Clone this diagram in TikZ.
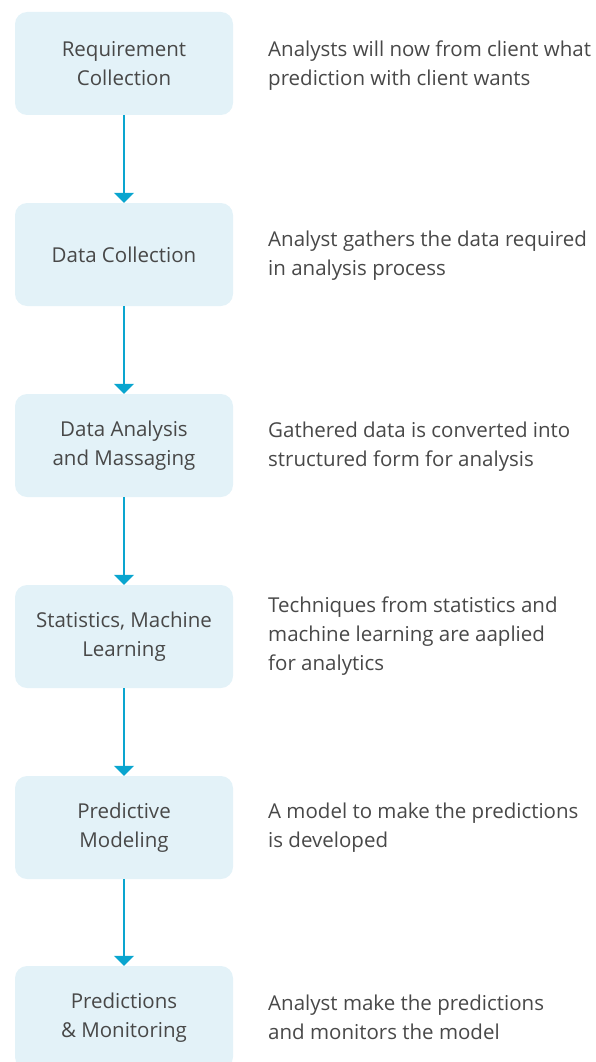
\documentclass[tikz,border=0pt]{standalone}
\usepackage{fontspec}
\setmainfont{Open Sans}
\usetikzlibrary{arrows.meta}
\definecolor{boxfill}{HTML}{E3F2F8}
\definecolor{txt}{HTML}{484848}
\definecolor{flow}{HTML}{0AA5CF}
\begin{document}
\begin{tikzpicture}[x=1pt,y=-1pt,
  stage/.style={rectangle, rounded corners=12pt, fill=boxfill, draw=none,
    minimum width=218pt, minimum height=103pt, align=center, text=txt,
    font=\fontsize{20.5}{29}\selectfont, inner sep=0pt},
  note/.style={anchor=west, align=left, text=txt, inner sep=0pt,
    font=\fontsize{20.5}{29}\selectfont},
  flowarrow/.style={draw=flow, line width=1.6pt,
    -{Triangle[length=10pt,width=20pt]}}]
\useasboundingbox (0,0) rectangle (595,1062);
\begin{scope}
\clip (0,0) rectangle (595,1062);
\node[stage] (s1) at (124,63.5) {Requirement\\Collection};
\node[stage] (s2) at (124,254.5) {Data Collection};
\node[stage] (s3) at (124,445.5) {Data Analysis\\and Massaging};
\node[stage] (s4) at (124,636.5) {Statistics, Machine\\Learning};
\node[stage] (s5) at (124,827.5) {Predictive\\Modeling};
\node[stage] (s6) at (124,1017.5) {Predictions\\\& Monitoring};
\end{scope}
\node[note] (n1) at (268,65.5) {Analysts will now from client what\\prediction with client wants};
\node[note] (n2) at (268,255.5) {Analyst gathers the data required\\in analysis process};
\node[note] (n3) at (268,446.5) {Gathered data is converted into\\structured form for analysis};
\node[note] (n4) at (268,636.5) {Techniques from statistics and\\machine learning are aaplied\\for analytics};
\node[note] (n5) at (268,827.5) {A model to make the predictions\\is developed};
\node[note] (n6) at (268,1017.5) {Analyst make the predictions\\and monitors the model};
\foreach \a/\b in {s1/s2,s2/s3,s3/s4,s4/s5,s5/s6}
  \draw[flowarrow] (\a.south) -- (\b.north);
\end{tikzpicture}
\end{document}
